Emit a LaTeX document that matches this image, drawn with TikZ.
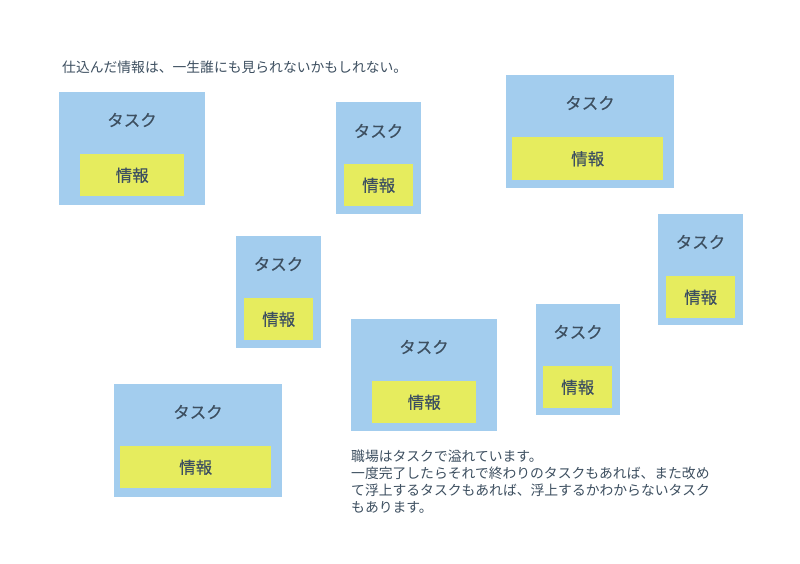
\documentclass[tikz,border=0pt]{standalone}
\usepackage{fontspec}
\newfontfamily\jp{Noto Sans CJK JP}
\newfontfamily\jpm[FakeBold=0.4]{Noto Sans CJK JP}
\definecolor{taskblue}{HTML}{A3CDEE}
\definecolor{infoyellow}{HTML}{E6EC5E}
\definecolor{txt}{HTML}{3D4F60}
\begin{document}
\begin{tikzpicture}[x=1pt,y=-1pt,
  task/.style={fill=taskblue,draw=none,anchor=north west,inner sep=0pt},
  info/.style={fill=infoyellow,draw=none,anchor=north west,inner sep=0pt},
  lbl/.style={text=txt,font=\jpm\fontsize{16.5}{16.5}\selectfont,inner sep=0pt},
  para/.style={text=txt,font=\jp\fontsize{13.8}{17}\selectfont,inner sep=0pt,anchor=north west,align=left}]
\useasboundingbox[fill=white] (0,0) rectangle (800,564);
% box 1
\node[task,minimum width=146,minimum height=113] (t1) at (59,92) {};
\node[info,minimum width=104,minimum height=42] (i1) at (80,154) {};
\node[lbl] (n1) at (i1.center) {情報};
\node[lbl] (l1) at (132,120) {タスク};
% box 2
\node[task,minimum width=85,minimum height=112] (t2) at (336,102) {};
\node[info,minimum width=69,minimum height=42] (i2) at (344,164) {};
\node[lbl] (n2) at (i2.center) {情報};
\node[lbl] (l2) at (378.5,131) {タスク};
% box 3
\node[task,minimum width=168,minimum height=113] (t3) at (506,75) {};
\node[info,minimum width=151,minimum height=43] (i3) at (512,137) {};
\node[lbl] (n3) at (i3.center) {情報};
\node[lbl] (l3) at (590,103) {タスク};
% box 4
\node[task,minimum width=85,minimum height=112] (t4) at (236,236) {};
\node[info,minimum width=69,minimum height=42] (i4) at (244,298) {};
\node[lbl] (n4) at (i4.center) {情報};
\node[lbl] (l4) at (278.5,264) {タスク};
% box 5
\node[task,minimum width=85,minimum height=111] (t5) at (658,214) {};
\node[info,minimum width=69,minimum height=42] (i5) at (666,276) {};
\node[lbl] (n5) at (i5.center) {情報};
\node[lbl] (l5) at (700.5,242) {タスク};
% box 6
\node[task,minimum width=146,minimum height=112] (t6) at (351,319) {};
\node[info,minimum width=104,minimum height=42] (i6) at (372,381) {};
\node[lbl] (n6) at (i6.center) {情報};
\node[lbl] (l6) at (424,347) {タスク};
% box 7
\node[task,minimum width=84,minimum height=111] (t7) at (536,304) {};
\node[info,minimum width=69,minimum height=42] (i7) at (543,366) {};
\node[lbl] (n7) at (i7.center) {情報};
\node[lbl] (l7) at (578,332) {タスク};
% box 8
\node[task,minimum width=168,minimum height=113] (t8) at (114,384) {};
\node[info,minimum width=151,minimum height=42] (i8) at (120,446) {};
\node[lbl] (n8) at (i8.center) {情報};
\node[lbl] (l8) at (198,412) {タスク};
% texts
\node[para] (top) at (62,61) {仕込んだ情報は、一生誰にも見られないかもしれない。};
\node[para] (para) at (351,450) {職場はタスクで溢れています。\\一度完了したらそれで終わりのタスクもあれば、また改め\\て浮上するタスクもあれば、浮上するかわからないタスク\\もあります。};
\end{tikzpicture}
\end{document}
